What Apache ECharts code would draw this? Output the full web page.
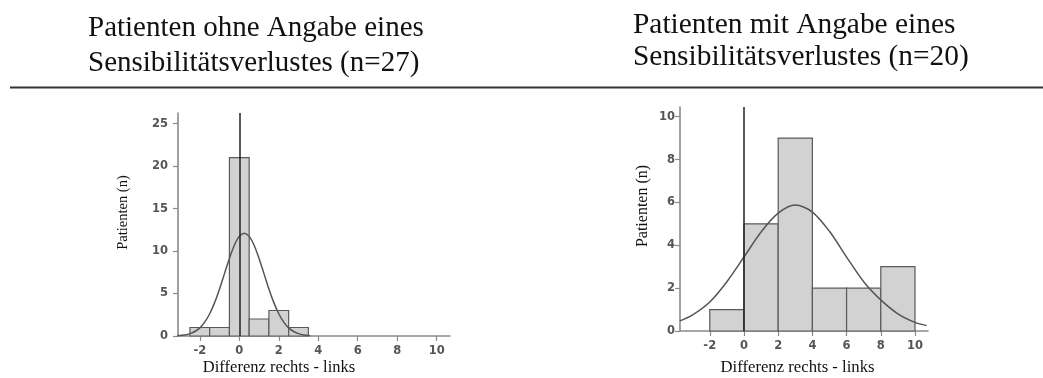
<!DOCTYPE html>
<html>
<head>
<meta charset="utf-8">
<script src="https://cdn.jsdelivr.net/npm/echarts@6/dist/echarts.min.js"></script>
<style>
  html, body { margin: 0; padding: 0; background: #fff; }
  #chart { width: 1043px; height: 378px; }
</style>
</head>
<body>
<div id="chart"></div>
<script>
// Histogram of right-left differences, two patient groups, each with a fitted normal curve

// Group without reported sensory loss
const leftEdges = [-2.5, -1.5, -0.5, 0.5, 1.5, 2.5, 3.5];
const leftCounts = [1, 1, 21, 2, 3, 1];
const leftCurveX = [-3.15, -2.75, -2.5, -2.25, -2.0, -1.75, -1.5, -1.25, -1.0, -0.75, -0.5, -0.25, 0.0, 0.25, 0.5, 0.75, 1.0, 1.25, 1.5, 1.75, 2.0, 2.25, 2.5, 2.75, 3.0, 3.25, 3.6];
const leftCurveY = [0.04, 0.13, 0.28, 0.53, 0.96, 1.64, 2.62, 3.93, 5.54, 7.34, 9.13, 10.68, 11.72, 12.1, 11.72, 10.68, 9.13, 7.34, 5.54, 3.93, 2.62, 1.64, 0.96, 0.53, 0.28, 0.13, 0.04];
const leftXTicks = [-2, 0, 2, 4, 6, 8, 10];
const leftYTicks = [0, 5, 10, 15, 20, 25];

// Group with reported sensory loss
const rightEdges = [-2, 0, 2, 4, 6, 8, 10];
const rightCounts = [1, 5, 9, 2, 2, 3];
const rightCurveX = [-3.74, -3.0, -2.0, -1.0, 0.0, 1.0, 2.0, 3.0, 4.0, 5.0, 6.0, 7.0, 8.0, 9.0, 10.0, 10.68];
const rightCurveY = [0.47, 0.75, 1.35, 2.3, 3.45, 4.62, 5.5, 5.88, 5.55, 4.65, 3.45, 2.3, 1.45, 0.8, 0.4, 0.25];
const rightXTicks = [-2, 0, 2, 4, 6, 8, 10];
const rightYTicks = [0, 2, 4, 6, 8, 10];

const titleLeft = ['Patienten ohne Angabe eines', 'Sensibilitätsverlustes (n=27)'];
const titleRight = ['Patienten mit Angabe eines', 'Sensibilitätsverlustes (n=20)'];
const yTitle = 'Patienten (n)';
const xTitle = 'Differenz rechts - links';

const binData = (edges, counts) => counts.map((c, i) => [edges[i], edges[i + 1], c]);
const curveData = (xs, ys) => xs.map((x, i) => [x, ys[i]]);

const axisColor = '#8a8a8a';
const labelStyle = { fontFamily: 'DejaVu Sans', fontWeight: 'bold', fontSize: 11.5, color: '#555' };

function xAxisFor(gridIndex, min, max, ticks) {
  return {
    type: 'value', gridIndex, min, max,
    axisLine: { onZero: false, lineStyle: { color: axisColor, width: 1.6 } },
    axisTick: { length: 5, lineStyle: { color: axisColor, width: 1.2 }, customValues: ticks },
    axisLabel: Object.assign({ margin: 9, customValues: ticks }, labelStyle),
    splitLine: { show: false }
  };
}
function yAxisFor(gridIndex, max, ticks, margin) {
  return {
    type: 'value', gridIndex, min: 0, max,
    axisLine: { show: true, onZero: false, lineStyle: { color: axisColor, width: 1.6 } },
    axisTick: { show: true, length: 5, lineStyle: { color: axisColor, width: 1.2 }, customValues: ticks },
    axisLabel: Object.assign({ margin, customValues: ticks }, labelStyle),
    splitLine: { show: false }
  };
}

function histSeries(idx, data) {
  return {
    type: 'custom', xAxisIndex: idx, yAxisIndex: idx,
    data,
    encode: { x: [0, 1], y: 2 },
    renderItem: (params, api) => {
      const p0 = api.coord([api.value(0), api.value(2)]);
      const p1 = api.coord([api.value(1), 0]);
      return {
        type: 'rect',
        shape: { x: p0[0], y: p0[1], width: p1[0] - p0[0], height: p1[1] - p0[1] },
        style: { fill: '#d2d2d2', stroke: '#5a5a5a', lineWidth: 1.2 }
      };
    },
    markLine: {
      silent: true, symbol: 'none', label: { show: false },
      lineStyle: { color: '#222', width: 1.5, type: 'solid' },
      data: [{ xAxis: 0 }]
    },
    z: 2
  };
}
function curveSeries(idx, data) {
  return {
    type: 'line', xAxisIndex: idx, yAxisIndex: idx,
    data, smooth: 0.3, symbol: 'none', clip: true,
    lineStyle: { color: '#555', width: 1.5 },
    z: 3
  };
}

const serif = 'Liberation Serif';
function titleText(x, y, text, size) {
  return { type: 'text', x, y, style: { text, font: size + 'px "' + serif + '"', fill: '#111', verticalAlign: 'middle', align: 'left' } };
}
function centerText(x, y, text, size, rot) {
  return { type: 'text', x, y, rotation: rot || 0, style: { text, font: size + 'px "' + serif + '"', fill: '#111', align: 'center', verticalAlign: 'middle' } };
}

const chart = echarts.init(document.getElementById('chart'), null, { renderer: 'canvas' });
chart.setOption({
  animation: false,
  backgroundColor: '#fff',
  grid: [
    { left: 178, top: 113, width: 272, height: 223 },
    { left: 680, top: 107, width: 248, height: 224 }
  ],
  xAxis: [
    xAxisFor(0, -3.105, 10.674, leftXTicks),
    xAxisFor(1, -3.74, 10.76, rightXTicks)
  ],
  yAxis: [
    yAxisFor(0, 26.24, leftYTicks, 10),
    yAxisFor(1, 10.45, rightYTicks, 5)
  ],
  series: [
    histSeries(0, binData(leftEdges, leftCounts)),
    curveSeries(0, curveData(leftCurveX, leftCurveY)),
    histSeries(1, binData(rightEdges, rightCounts)),
    curveSeries(1, curveData(rightCurveX, rightCurveY))
  ],
  graphic: [
    titleText(88, 28, titleLeft[0], 29),
    titleText(88, 63, titleLeft[1], 29),
    titleText(633, 25, titleRight[0], 29.4),
    titleText(633, 57, titleRight[1], 29.4),
    { type: 'line', shape: { x1: 10, y1: 87.5, x2: 1043, y2: 87.5 }, style: { stroke: '#333', lineWidth: 2 } },
    centerText(123, 212.5, yTitle, 14.5, Math.PI / 2),
    centerText(643, 206, yTitle, 16, Math.PI / 2),
    centerText(279, 368, xTitle, 16.5),
    centerText(797.5, 368, xTitle, 16.7)
  ]
});
</script>
</body>
</html>
